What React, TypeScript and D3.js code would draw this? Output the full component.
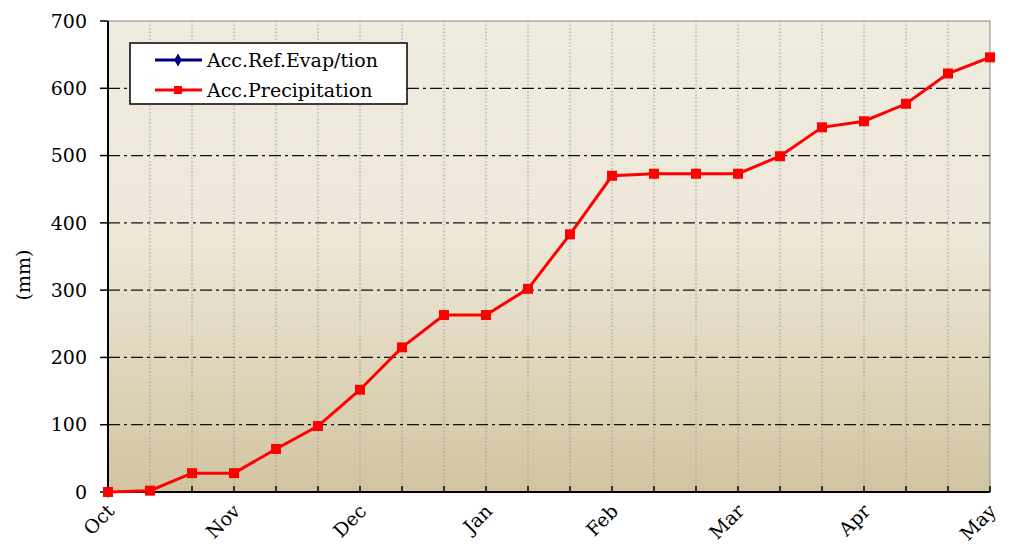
import React from "react";
import * as d3 from "d3";

const months = ["Oct", "Nov", "Dec", "Jan", "Feb", "Mar", "Apr", "May"];
const yTicks = [0, 100, 200, 300, 400, 500, 600, 700];
const precip = [0, 2, 28, 28, 64, 98, 152, 215, 263, 263, 302, 383, 470, 473, 473, 473, 499, 542, 551, 577, 622, 646];
const evap = [0];

const W = 1012, H = 547;
const m = { l: 108, r: 990, t: 21, b: 492 };
const FONT = "'DejaVu Serif'";

export default function App() {
  const x = d3.scaleLinear().domain([0, precip.length - 1]).range([m.l, m.r]);
  const y = d3.scaleLinear().domain([0, 700]).range([m.b, m.t]);
  const line = d3.line<number>().x((_, i) => x(i)).y((d) => y(d));
  const idx = d3.range(precip.length);
  const ts = { fontFamily: FONT };
  return (
    <svg width={W} height={H} style={{ position: "absolute", left: 0, top: 0, background: "#fff", fontFamily: FONT }}>
      <defs>
        <linearGradient id="bg" x1="0" y1="0" x2="0" y2="1">
          <stop offset="0" stopColor="#EFEBDF" />
          <stop offset="0.45" stopColor="#EDE8D8" />
          <stop offset="1" stopColor="#D2C4A1" />
        </linearGradient>
      </defs>
      <rect x={m.l} y={m.t} width={m.r - m.l} height={m.b - m.t} fill="url(#bg)" stroke="#888" strokeWidth={1} />
      {idx.slice(1, -1).map((i) => (
        <line key={"v" + i} x1={x(i)} x2={x(i)} y1={m.t} y2={m.b} stroke="#9a9a9a" strokeWidth={1} strokeDasharray="1.5,2" />
      ))}
      {yTicks.slice(1, -1).map((t) => (
        <line key={"h" + t} x1={m.l} x2={m.r} y1={y(t)} y2={y(t)} stroke="#111" strokeWidth={1.3} strokeDasharray="12,4,3,4" />
      ))}
      <line x1={m.l} x2={m.l} y1={m.t} y2={m.b} stroke="#000" strokeWidth={2} />
      <line x1={m.l} x2={m.r} y1={m.b} y2={m.b} stroke="#000" strokeWidth={2} />
      {yTicks.map((t) => (
        <g key={"yt" + t}>
          <line x1={m.l - 8} x2={m.l} y1={y(t)} y2={y(t)} stroke="#000" strokeWidth={1.5} />
          <text x={87} y={y(t)} dy="0.35em" textAnchor="end" fill="#000" style={{ ...ts, fontSize: 19 }}>{t}</text>
        </g>
      ))}
      {idx.map((i) => (
        <line key={"xt" + i} x1={x(i)} x2={x(i)} y1={m.b - 6} y2={m.b} stroke="#000" strokeWidth={1.5} />
      ))}
      {months.map((mo, k) => (
        <text key={mo} transform={`translate(${x(k * 3) - 2},${m.b + 11}) rotate(-45)`} textAnchor="end" dy="0.7em" fill="#000" style={{ ...ts, fontSize: 19 }}>{mo}</text>
      ))}
      <text transform={`translate(30,275) rotate(-90)`} textAnchor="middle" fill="#000" style={{ ...ts, fontSize: 19 }}>(mm)</text>
      {evap.map((v, i) => (
        <path key={"e" + i} d={d3.symbol(d3.symbolDiamond, 40)()!} transform={`translate(${x(i)},${y(v)})`} fill="#000080" />
      ))}
      <path d={line(precip)!} fill="none" stroke="#FF0000" strokeWidth={3} />
      {precip.map((v, i) => (
        <rect key={"p" + i} x={x(i) - 5} y={y(v) - 5} width={10} height={10} fill="#FF0000" />
      ))}
      <rect x={130} y={43} width={277} height={61} fill="#fff" stroke="#000" strokeWidth={1.5} />
      <line x1={155} x2={202} y1={60} y2={60} stroke="#000080" strokeWidth={3} />
      <path d={d3.symbol(d3.symbolDiamond, 50)()!} transform="translate(178,60)" fill="#000080" />
      <text x={207} y={60} dy="0.35em" fill="#000" style={{ ...ts, fontSize: 19 }}>Acc.Ref.Evap/tion</text>
      <line x1={155} x2={202} y1={90} y2={90} stroke="#FF0000" strokeWidth={3} />
      <rect x={174} y={86} width={8} height={8} fill="#FF0000" />
      <text x={207} y={90} dy="0.35em" fill="#000" style={{ ...ts, fontSize: 19 }}>Acc.Precipitation</text>
    </svg>
  );
}
